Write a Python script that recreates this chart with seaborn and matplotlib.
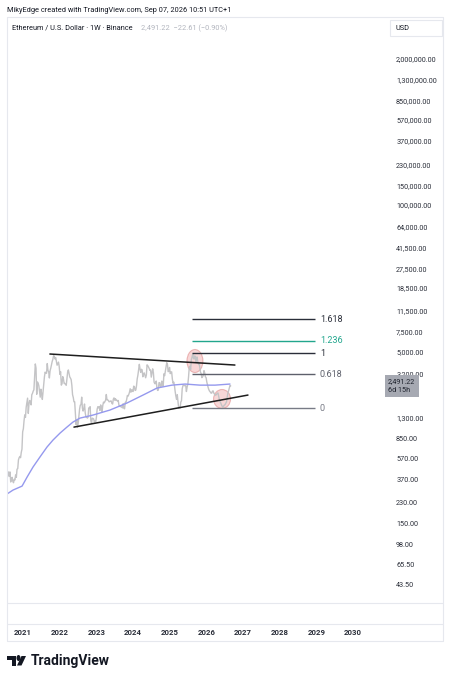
import pandas as pd
import matplotlib
matplotlib.use('Agg')
import matplotlib.pyplot as plt
from matplotlib.lines import Line2D
from matplotlib.patches import Ellipse, Rectangle, Polygon, Circle
from matplotlib.transforms import ScaledTranslation, blended_transform_factory
from matplotlib.ticker import NullLocator
import matplotlib.dates as mdates
import seaborn as sns

# weekly closes (ETH/USD), one value per Monday starting 2020-07-20
eth_2020 = [320, 385, 395, 430, 395, 430, 350, 375, 385, 355, 345, 370,
            365, 405, 385, 455, 460, 550, 575, 590, 575, 640, 685, 975]
eth_2021 = [1040, 1230, 1380, 1310, 1610, 1780, 1940, 1420, 1720, 1850, 1780, 1690,
            2080, 2140, 2240, 2300, 2950, 3900, 3580, 2100, 2700, 2630, 2500, 2240,
            1980, 2330, 2120, 1890, 2190, 2530, 3010, 3300, 3220, 3230, 3930, 3410,
            3330, 2930, 3390, 3580, 3850, 4100, 4290, 4620, 4570, 4320, 4440, 4100,
            3800, 3930, 4050, 3690]
eth_2022 = [3150, 3330, 2530, 2600, 3010, 2880, 2620, 2620, 2570, 2520, 2860, 3300,
            3450, 3200, 2990, 2920, 2830, 2520, 2080, 1970, 1800, 1800, 1450, 1130,
            1240, 1070, 1160, 1340, 1550, 1680, 1700, 1980, 1580, 1490, 1570, 1720,
            1440, 1320, 1330, 1290, 1310, 1590, 1570, 1630, 1220, 1160, 1290, 1280,
            1270, 1190, 1220, 1200]
eth_2023 = [1320, 1550, 1630, 1590, 1630, 1510, 1690, 1590, 1470, 1670, 1790, 1760,
            1810, 1860, 2090, 1870, 1870, 1850, 1800, 1810, 1830, 1830, 1740, 1720,
            1900, 1950, 1860, 1920, 1850, 1860, 1830, 1850, 1680, 1650, 1630, 1630,
            1620, 1590, 1730, 1580, 1560, 1780, 1780, 1890, 2050, 2020, 2090, 2190,
            2350, 2190, 2300, 2280]
eth_2024 = [2220, 2480, 2450, 2270, 2290, 2500, 2880, 3110, 3490, 3870, 3520, 3280,
            3500, 3450, 3000, 3200, 3250, 3100, 2940, 3110, 3830, 3770, 3670, 3560,
            3420, 3440, 2980, 3240, 3530, 3270, 2690, 2610, 2610, 2750, 2420, 2270,
            2290, 2660, 2660, 2440, 2470, 2750, 2480, 2500, 3190, 3070, 3360, 3700,
            4000, 3880, 3330, 3360, 3630]
eth_2025 = [3200, 3300, 3320, 2860, 2630, 2690, 2500, 2220, 2020, 1890, 2080, 1800,
            1580, 1620, 1580, 1790, 1840, 2350, 2500, 2530, 2500, 2520, 2520, 2220,
            2430, 2570, 2970, 3600, 3720, 3480, 4260, 4470, 4780, 4390, 4310, 4600,
            4450, 4000, 4500, 4150, 3900, 3950, 3650, 3300, 3200, 2950, 3000, 3100,
            3400, 3250, 3000, 2950]
eth_2026 = [2700, 2550, 2400, 2300, 2237, 2200, 2150, 2150, 2237, 2250, 2150, 2100,
            2060, 2066, 2100, 2150, 2152, 2000, 1866, 1800, 1750, 1685, 1640, 1617,
            1650, 1685, 1700, 1750, 1790, 1950, 2152, 2250, 2380, 2514, 2491.22]
eth_close = eth_2020 + eth_2021 + eth_2022 + eth_2023 + eth_2024 + eth_2025 + eth_2026
eth_dates = pd.date_range('2020-07-20', periods=len(eth_close), freq='W-MON')

# moving average
ma_dates = pd.to_datetime(['2020-07-25', '2020-09-23', '2020-12-22', '2021-02-10', '2021-04-10',
                           '2021-06-18', '2021-08-27', '2021-10-26', '2022-01-04', '2022-03-14',
                           '2022-05-13', '2022-07-21', '2022-11-28', '2023-05-16', '2023-11-01',
                           '2024-04-10', '2024-08-27', '2025-01-23', '2025-06-03', '2025-10-29',
                           '2026-03-28', '2026-08-24'])
ma_values = [274, 297, 322, 387, 475, 583, 714, 824, 950, 1074, 1190, 1290, 1373, 1521,
             1755, 2066, 2384, 2530, 2587, 2530, 2530, 2587]

# trend lines
upper_dates = pd.to_datetime(['2021-09-25', '2026-10-12'])
upper_prices = [4776, 3814]
lower_dates = pd.to_datetime(['2022-05-23', '2027-02-19'])
lower_prices = [1074, 2066]

# fib retracement
fib_labels = ['0', '0.618', '1', '1.236', '1.618']
fib_prices = [1573, 3170, 4843, 6262, 9689]
fib_colors = ['#787b86', '#5d606b', '#2a2e39', '#22a68d', '#2a2e39']
fib_start, fib_end = pd.Timestamp('2025-08-08'), pd.Timestamp('2028-12-18')
fib_label_date = pd.Timestamp('2029-02-05')

# highlighted zones
zone_dates = pd.to_datetime(['2025-09-09', '2026-06-06'])
zone_prices = [4140, 1906]
zone_sizes = [(0.16, 0.23), (0.17, 0.19)]

price_ticks = [2000000, 1300000, 850000, 570000, 370000, 230000, 150000, 100000, 64000,
               41500, 27500, 18500, 11500, 7500, 5000, 3200, 1300, 850, 570, 370, 230,
               150, 98, 65.5, 43.5]
years = list(range(2021, 2031))
last_price = 2491.22

sns.set_style('white')
plt.rcParams['font.family'] = ['Roboto', 'DejaVu Sans']

W, H = 451, 680
fig = plt.figure(figsize=(W / 100, H / 100), dpi=100)


def fx(x):
    return x / W


def fy(y):
    return 1 - y / H


ax = fig.add_axes([fx(7), fy(603), fx(385) - fx(7), fy(17) - fy(603)])
ax.set_yscale('log')
sns.lineplot(x=eth_dates, y=eth_close, ax=ax, color='#c4c4c6', linewidth=1.0)
sns.lineplot(x=ma_dates, y=ma_values, ax=ax, color='#9599ee', linewidth=1.0)

ax.plot(upper_dates, upper_prices, color='#1e1e1e', linewidth=1.1)
ax.plot(lower_dates, lower_prices, color='#1e1e1e', linewidth=1.1)

ax.hlines(fib_prices, fib_start, fib_end, colors=fib_colors, linewidth=1.0)
for lab, p, c in zip(fib_labels, fib_prices, fib_colors):
    ax.text(fib_label_date, p, lab, color=c, fontsize=6.5, ha='left', va='center')

for d, p, (w, h) in zip(zone_dates, zone_prices, zone_sizes):
    tr = fig.dpi_scale_trans + ScaledTranslation(mdates.date2num(d), p, ax.transData)
    ax.add_patch(Ellipse((0, 0), w, h, transform=tr, facecolor='#f0a8a8', alpha=0.45,
                         edgecolor='#d77070', linewidth=0.8))

ax.set_xlim(pd.Timestamp('2020-07-25'), pd.Timestamp('2030-11-15'))
ax.set_ylim(29.6, 4.65e6)
ax.yaxis.tick_right()
ax.set_yticks(price_ticks)
ax.set_yticklabels([f'{t:,.2f}' for t in price_ticks])
ax.yaxis.set_minor_locator(NullLocator())
ax.tick_params(axis='y', length=0, pad=8, labelsize=5.2, labelcolor='#2a2e39')
ax.set_xticks([])
ax.set_xlabel('')
ax.set_ylabel('')
for s in ax.spines.values():
    s.set_visible(False)

# last price label
bt = blended_transform_factory(ax.transAxes, ax.transData)
ax.text(1.008, last_price, f'{last_price:,.2f}\n6d 15h', transform=bt, fontsize=5.2,
        color='#1e222d', ha='left', va='center', linespacing=1.25, clip_on=False,
        bbox=dict(boxstyle='square,pad=0.45', facecolor='#a6a9b2', edgecolor='none'))

# time axis
ax_t = fig.add_axes([fx(7), fy(641), fx(385) - fx(7), fy(624) - fy(641)])
ax_t.set_xlim(ax.get_xlim())
ax_t.set_ylim(0, 1)
ax_t.axis('off')
for yr in years:
    ax_t.text(pd.Timestamp(f'{yr}-01-01'), 0.5, str(yr), ha='center', va='center',
              fontsize=5.6, fontweight='bold', color='#2a2e39')

# frame lines
border = '#e6e8ee'
for x0, y0, x1, y1 in [(7, 17, 443, 17), (7, 641, 443, 641), (7, 17, 7, 641),
                       (443, 17, 443, 641), (7, 603, 443, 603), (7, 624, 443, 624)]:
    fig.add_artist(Line2D([fx(x0), fx(x1)], [fy(y0), fy(y1)], transform=fig.transFigure,
                          color=border, linewidth=0.8))

# header
fig.text(fx(7), fy(10), 'MikyEdge created with TradingView.com, Sep 07, 2026 10:51 UTC+1',
         fontsize=5.3, color='#131722', va='center', ha='left')
fig.text(fx(12), fy(28), 'Ethereum / U.S. Dollar · 1W · Binance', fontsize=5.3,
         color='#131722', va='center', ha='left')
fig.text(fx(141), fy(28), '2,491.22  \u221222.61 (\u22120.90%)', fontsize=5.3,
         color='#b2b5be', va='center', ha='left')
fig.add_artist(Rectangle((fx(390), fy(36)), fx(442) - fx(390), fy(20) - fy(36),
                         transform=fig.transFigure, facecolor='white', edgecolor=border,
                         linewidth=0.8))
fig.text(fx(396), fy(28), 'USD', fontsize=5.3, color='#131722', va='center', ha='left')

# TradingView logo
logo = '#131722'
fig.add_artist(Polygon([(fx(7), fy(656)), (fx(16), fy(656)), (fx(16), fy(665.5)),
                        (fx(12), fy(665.5)), (fx(12), fy(659.5)), (fx(7), fy(659.5))],
                       closed=True, transform=fig.transFigure, facecolor=logo, edgecolor='none'))
fig.add_artist(Circle((fx(18.5), fy(658)), fx(2.0), transform=fig.transFigure,
                      facecolor=logo, edgecolor='none'))
fig.add_artist(Polygon([(fx(21.5), fy(656)), (fx(26), fy(656)), (fx(21.5), fy(665.5)),
                        (fx(17), fy(665.5))],
                       closed=True, transform=fig.transFigure, facecolor=logo, edgecolor='none'))
fig.text(fx(31), fy(661), 'TradingView', fontsize=10, fontweight='bold', color=logo,
         va='center', ha='left')

fig.savefig('out.png', dpi=100, facecolor='white')
